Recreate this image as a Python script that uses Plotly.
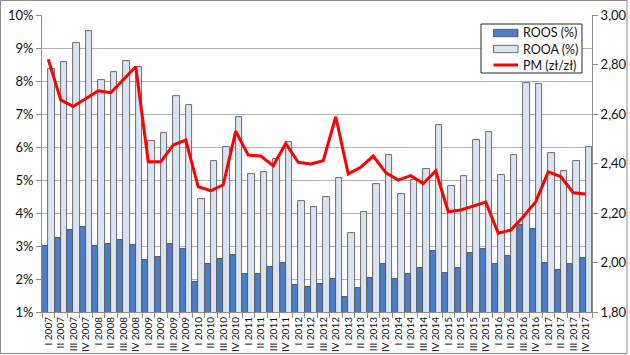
import plotly.graph_objects as go

quarters = ["I", "II", "III", "IV"]
years = list(range(2007, 2018))
categories = [f"{q} {y}" for y in years for q in quarters]

roos = [3.00, 3.23, 3.47, 3.59, 2.99, 3.07, 3.17, 3.04, 2.59, 2.67, 3.05,
        2.92, 1.91, 2.44, 2.61, 2.73, 2.14, 2.16, 2.37, 2.49, 1.82, 1.76,
        1.86, 2.00, 1.44, 1.72, 2.03, 2.45, 1.99, 2.15, 2.33, 2.84, 2.19,
        2.33, 2.80, 2.90, 2.44, 2.71, 3.65, 3.53, 2.50, 2.26, 2.44, 2.65]
rooa = [8.37, 8.59, 9.16, 9.52, 8.02, 8.26, 8.62, 8.43, 6.19, 6.43, 7.56,
        7.28, 4.42, 5.58, 6.00, 6.91, 5.19, 5.25, 5.64, 6.15, 4.37, 4.19,
        4.48, 5.07, 3.40, 4.02, 4.87, 5.77, 4.59, 4.99, 5.34, 6.67, 4.81,
        5.11, 6.20, 6.44, 5.16, 5.77, 7.94, 7.90, 5.83, 5.28, 5.57, 6.00]
pm = [2.821, 2.657, 2.630, 2.662, 2.694, 2.686, 2.737, 2.791, 2.407, 2.407, 2.475,
      2.495, 2.306, 2.290, 2.314, 2.531, 2.434, 2.430, 2.391, 2.481, 2.405, 2.398,
      2.411, 2.589, 2.358, 2.385, 2.430, 2.363, 2.333, 2.351, 2.319, 2.370, 2.205,
      2.212, 2.228, 2.244, 2.118, 2.131, 2.185, 2.246, 2.366, 2.347, 2.282, 2.277]

series_names = ["ROOS (%)", "ROOA (%)", "PM (zł/zł)"]
left_ticks = list(range(1, 11))
left_ticktext = [f"{v}%" for v in left_ticks]
right_ticks = [1.8, 2.0, 2.2, 2.4, 2.6, 2.8, 3.0]
right_ticktext = ["1,80", "2,00", "2,20", "2,40", "2,60", "2,80", "3,00"]

FONT = "Lato, 'Open Sans', sans-serif"
W, H = 630, 355
L, R, T, B = 42, 38, 15, 43
pw, ph = W - L - R, H - T - B
C_DARK, C_LIGHT, C_LINE = "#4a7ec8", "#d9e3f1", "#ff0000"


def px(x):
    return (x - L) / pw


def py(y):
    return (H - B - y) / ph


fig = go.Figure()
fig.add_trace(go.Bar(x=categories, y=roos, name=series_names[0], showlegend=False,
                     marker=dict(color=C_DARK, line=dict(color="#3a3a3a", width=0.8))))
fig.add_trace(go.Bar(x=categories, y=rooa, name=series_names[1], showlegend=False,
                     marker=dict(color=C_LIGHT, line=dict(color="#4a4a4a", width=0.8))))
fig.add_trace(go.Scatter(x=categories, y=pm, name=series_names[2], mode="lines", showlegend=False,
                         line=dict(color=C_LINE, width=3), yaxis="y2"))

fig.update_layout(
    width=W, height=H,
    margin=dict(l=L, r=R, t=T, b=B, autoexpand=False),
    paper_bgcolor="white", plot_bgcolor="white",
    barmode="group", bargap=0, bargroupgap=0,
    font=dict(family=FONT, color="#111111"),
    xaxis=dict(type="category", tickangle=-90, tickfont=dict(size=10), automargin=False,
               tickson="boundaries", ticks="outside", ticklen=5, tickcolor="#8c8c8c",
               showline=True, linecolor="#8c8c8c", linewidth=1, showgrid=False,
               range=[-0.5, len(categories) - 0.5]),
    yaxis=dict(range=[1, 10], tickvals=left_ticks, ticktext=left_ticktext, automargin=False,
               tickfont=dict(size=13), ticks="outside", ticklen=5, tickcolor="#8c8c8c",
               showline=True, linecolor="#8c8c8c", linewidth=1,
               showgrid=True, gridcolor="#b3b3b3", gridwidth=1, zeroline=False),
    yaxis2=dict(range=[1.8, 3.0], tickvals=right_ticks, ticktext=right_ticktext, automargin=False,
                tickfont=dict(size=13), overlaying="y", side="right",
                ticks="outside", ticklen=5, tickcolor="#8c8c8c",
                showline=True, linecolor="#8c8c8c", linewidth=1,
                showgrid=False, zeroline=False),
    showlegend=False,
)

# outer chart border
fig.add_shape(type="rect", xref="paper", yref="paper",
              x0=px(0.5), x1=px(627), y0=py(353.5), y1=py(0.5),
              line=dict(color="#8c8c8c", width=1), fillcolor="rgba(0,0,0,0)", layer="above")

# legend box (drawn to match the original compact legend)
fig.add_shape(type="rect", xref="paper", yref="paper",
              x0=px(481), x1=px(582), y0=py(73), y1=py(24),
              line=dict(color="#262626", width=1), fillcolor="white", layer="above")
row_y = [33, 49, 65]
for i, name in enumerate(series_names):
    yc = row_y[i]
    if i < 2:
        fig.add_shape(type="rect", xref="paper", yref="paper",
                      x0=px(493.5), x1=px(518), y0=py(yc + 3.7), y1=py(yc - 3.7),
                      line=dict(color="#4a4a4a", width=0.8),
                      fillcolor=C_DARK if i == 0 else C_LIGHT, layer="above")
    else:
        fig.add_shape(type="line", xref="paper", yref="paper",
                      x0=px(493.5), x1=px(518), y0=py(yc), y1=py(yc),
                      line=dict(color=C_LINE, width=3), layer="above")
    fig.add_annotation(x=px(521), y=py(yc), xref="paper", yref="paper",
                       text=name, showarrow=False, xanchor="left", yanchor="middle",
                       font=dict(size=12.5, family=FONT, color="#111111"))

post = (
    "document.documentElement.style.margin='0';"
    "document.documentElement.style.overflow='hidden';"
    "document.body.style.margin='0';"
    "document.body.style.padding='0';"
    "document.body.style.overflow='hidden';"
    "var d=document.getElementById('{plot_id}');"
    "d.style.position='fixed';d.style.left='0px';d.style.top='0px';"
)
fig.write_html("out.html", config={"displayModeBar": False}, post_script=post)
